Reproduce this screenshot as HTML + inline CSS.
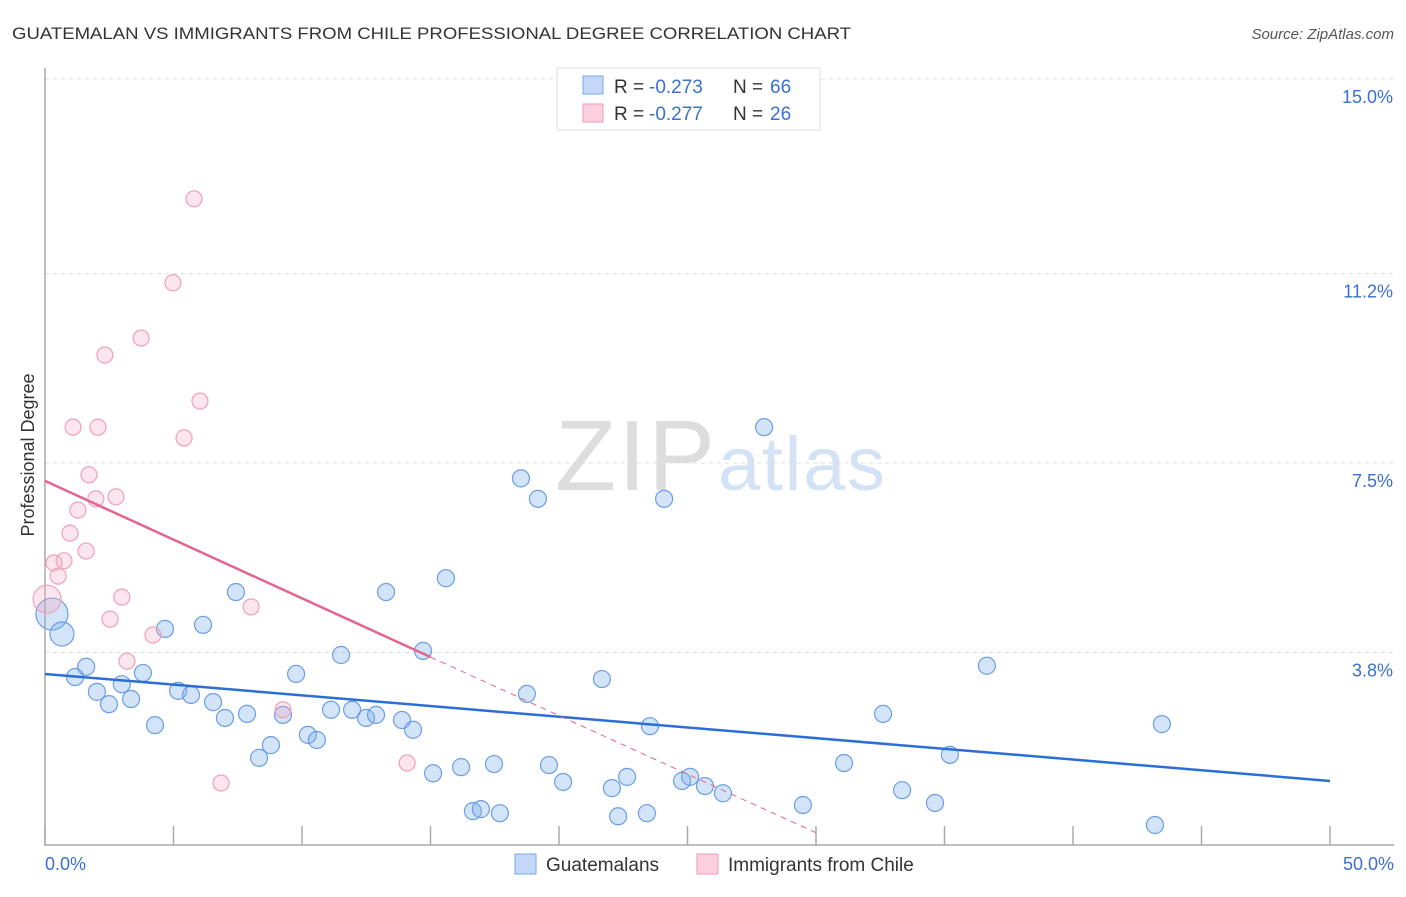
<!DOCTYPE html>
<html><head><meta charset="utf-8"><style>
body{margin:0;background:#fff;font-family:"Liberation Sans",sans-serif;}
svg text{font-family:"Liberation Sans",sans-serif;}
</style></head><body>
<svg id="chart" width="1406" height="892" viewBox="0 0 1406 892" xmlns="http://www.w3.org/2000/svg">
<text x="12" y="39" font-size="17" fill="#333" textLength="839" lengthAdjust="spacingAndGlyphs">GUATEMALAN VS IMMIGRANTS FROM CHILE PROFESSIONAL DEGREE CORRELATION CHART</text>
<text x="1394" y="39" font-size="15" fill="#555" font-style="italic" text-anchor="end">Source: ZipAtlas.com</text>
<text x="555" y="490" font-size="100" fill="#ddd" font-family="Liberation Serif" textLength="160">ZIP</text>
<text x="718" y="490" font-size="76" fill="#d4e2f5" textLength="167">atlas</text>
<g id="grid"></g><g id="axes"></g><g id="pts"></g><g id="lines"></g>
<text x="34" y="455" font-size="18" fill="#333" transform="rotate(-90 34 455)" text-anchor="middle">Professional Degree</text>
<g>
<rect x="557" y="68" width="263" height="62" fill="#fff" stroke="#ddd"/>
<rect x="583" y="76" width="20" height="18" fill="#c3d8f6" stroke="#7aa6e8"/>
<rect x="583" y="104" width="20" height="18" fill="#fbd0dc" stroke="#ee9ab4"/>
<text x="614" y="93" font-size="19" fill="#333">R =</text>
<text x="649" y="93" font-size="19" fill="#3a6fd4">-0.273</text>
<text x="733" y="93" font-size="19" fill="#333">N =</text>
<text x="770" y="93" font-size="19" fill="#3a6fd4">66</text>
<text x="614" y="120" font-size="19" fill="#333">R =</text>
<text x="649" y="120" font-size="19" fill="#3a6fd4">-0.277</text>
<text x="733" y="120" font-size="19" fill="#333">N =</text>
<text x="770" y="120" font-size="19" fill="#3a6fd4">26</text>
</g>
<g>
<rect x="515" y="854" width="21" height="20" fill="#c3d8f6" stroke="#7aa6e8"/>
<text x="546" y="871" font-size="19" fill="#333">Guatemalans</text>
<rect x="697" y="854" width="21" height="20" fill="#fbd0dc" stroke="#ee9ab4"/>
<text x="728" y="871" font-size="19" fill="#333">Immigrants from Chile</text>
</g>
</svg>
<script>
const yTicks=[15.0,11.2,7.5,3.8];
const yTickLabels=["15.0%","11.2%","7.5%","3.8%"];
const xTicks=[0,5,10,15,20,25,30,35,40,45,50];
const blueX=[0.27,0.66,1.17,1.6,2.02,2.49,2.99,3.35,3.81,4.28,4.67,5.18,5.68,6.15,6.54,7.0,7.43,7.86,8.33,8.79,9.26,9.77,10.23,10.58,11.13,11.52,11.95,12.49,12.88,13.27,13.89,14.32,14.71,15.1,15.6,16.19,16.65,16.96,17.47,17.7,18.52,18.75,19.18,19.61,20.16,21.67,22.06,22.3,22.65,23.42,23.54,24.09,24.79,25.1,25.68,26.38,27.98,29.49,31.09,32.61,33.35,34.63,35.21,36.65,43.19,43.46];
const blueY=[4.55,4.16,3.32,3.52,3.03,2.79,3.18,2.89,3.4,2.38,4.26,3.05,2.97,4.34,2.83,2.52,4.98,2.6,1.74,1.99,2.58,3.38,2.19,2.09,2.68,3.75,2.68,2.52,2.58,4.98,2.48,2.29,3.83,1.44,5.25,1.56,0.7,0.74,1.62,0.66,7.2,2.99,6.8,1.6,1.27,3.28,1.15,0.6,1.37,0.66,2.36,6.8,1.29,1.37,1.19,1.05,8.2,0.82,1.64,2.6,1.11,0.86,1.8,3.54,0.43,2.4];
const blueR=[16,12];
const pinkX=[0.08,0.35,0.51,0.74,0.97,1.09,1.28,1.6,1.71,1.98,2.06,2.33,2.53,2.76,2.99,3.19,3.74,4.2,4.98,5.41,5.8,6.03,6.85,8.02,9.26,14.09];
const pinkY=[4.84,5.55,5.29,5.59,6.13,8.2,6.58,5.78,7.27,6.8,8.2,9.61,4.45,6.84,4.88,3.63,9.94,4.14,11.02,7.99,12.66,8.71,1.25,4.69,2.68,1.64];
const blueLine=[3.38,1.29];
const pinkLine=[7.15,3.71,0.28];
const NS="http://www.w3.org/2000/svg";
const X=v=>45+v*25.7, Y=v=>847-v*51.2;
function mk(t,a,p){const e=document.createElementNS(NS,t);for(const k in a)e.setAttribute(k,a[k]);p.appendChild(e);return e;}
const grid=document.getElementById('grid'),axes=document.getElementById('axes'),pts=document.getElementById('pts'),lines=document.getElementById('lines');
yTicks.forEach((v,i)=>{
 const l=mk('line',{x1:45,x2:1394,y1:Y(v),y2:Y(v),stroke:'#ddd','stroke-dasharray':'4,4'},grid);
 
 
 const t=mk('text',{x:1393,y:Y(v)+24,'font-size':18,fill:'#3a6fd4','text-anchor':'end'},grid);
 t.textContent=yTickLabels[i];
 
 
});
const ax=mk('path',{d:'M45,68 V845 H1394',fill:'none',stroke:'#aaa','stroke-width':1.5},axes);


xTicks.forEach(v=>{
 const t=mk('line',{x1:X(v),x2:X(v),y1:826,y2:845,stroke:'#aaa','stroke-width':1.5},axes);
 
 
});
[[0,'0.0%',45,'start'],[50,'50.0%',1394,'end']].forEach(d=>{
 const t=mk('text',{x:d[2],y:870,'font-size':18,fill:'#3a6fd4','text-anchor':d[3]},axes);
 t.textContent=d[1];
 
 
});
blueX.forEach((x,i)=>{
 const c=mk('circle',{cx:X(x),cy:Y(blueY[i]),r:blueR[i]||8.5,fill:'rgba(130,175,235,0.35)',stroke:'#6a9ee6','stroke-width':1.2},pts);
 
 
});
pinkX.forEach((x,i)=>{
 const c=mk('circle',{cx:X(x),cy:Y(pinkY[i]),r:i==0?14:8,fill:'rgba(245,170,195,0.3)',stroke:'#eea0b8','stroke-width':1.2},pts);
 
 
});
const bl=mk('line',{x1:X(0),y1:Y(blueLine[0]),x2:X(50),y2:Y(blueLine[1]),stroke:'#2a6fd6','stroke-width':2.5},lines);


const pl=mk('line',{x1:X(0),y1:Y(pinkLine[0]),x2:X(15),y2:Y(pinkLine[1]),stroke:'#e4648e','stroke-width':2.5},lines);


const pd=mk('line',{x1:X(15),y1:Y(pinkLine[1]),x2:X(30),y2:Y(pinkLine[2]),stroke:'#e4648e','stroke-width':1,'stroke-dasharray':'6,5'},lines);


</script>
</body></html>
